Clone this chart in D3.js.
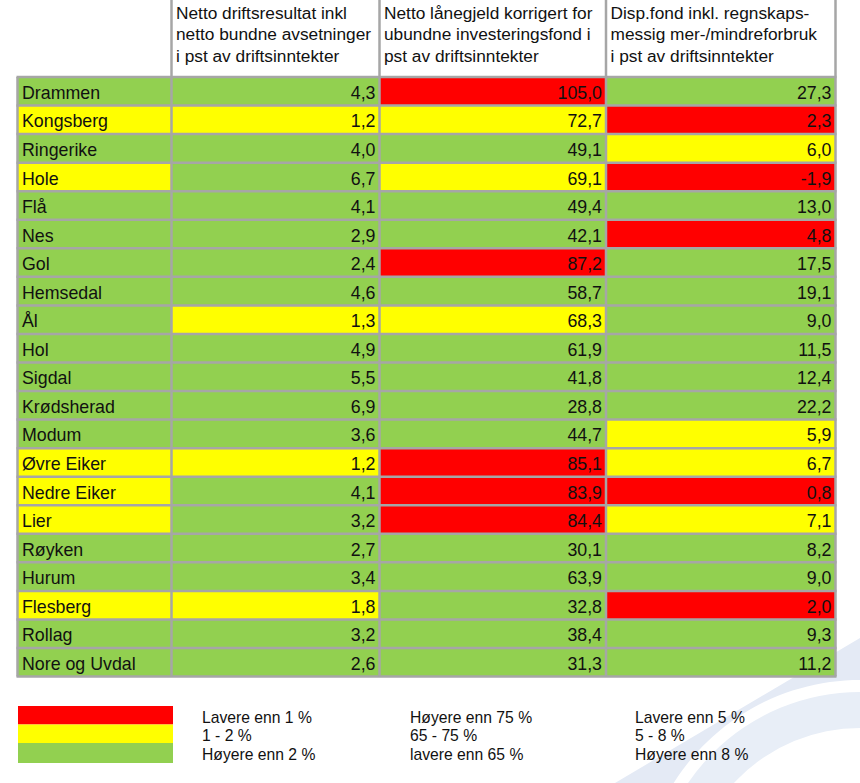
<!DOCTYPE html>
<html><head><meta charset="utf-8">
<script src="https://cdn.jsdelivr.net/npm/d3@7"></script>
<style>html,body{margin:0;padding:0;background:#fff;}svg{display:block;}</style>
</head><body>
<script>
const municipalities = ["Drammen","Kongsberg","Ringerike","Hole","Flå","Nes","Gol","Hemsedal","Ål","Hol","Sigdal","Krødsherad","Modum","Øvre Eiker","Nedre Eiker","Lier","Røyken","Hurum","Flesberg","Rollag","Nore og Uvdal"];
const driftsresultat = [4.3,1.2,4.0,6.7,4.1,2.9,2.4,4.6,1.3,4.9,5.5,6.9,3.6,1.2,4.1,3.2,2.7,3.4,1.8,3.2,2.6];
const lanegjeld = [105.0,72.7,49.1,69.1,49.4,42.1,87.2,58.7,68.3,61.9,41.8,28.8,44.7,85.1,83.9,84.4,30.1,63.9,32.8,38.4,31.3];
const dispfond = [27.3,2.3,6.0,-1.9,13.0,4.8,17.5,19.1,9.0,11.5,12.4,22.2,5.9,6.7,0.8,7.1,8.2,9.0,2.0,9.3,11.2];
const nameStatus = ["G","Y","G","Y","G","G","G","G","G","G","G","G","G","Y","Y","Y","G","G","Y","G","G"];
const headers = [
  ["Netto driftsresultat inkl","netto bundne avsetninger","i pst av driftsinntekter"],
  ["Netto lånegjeld korrigert for","ubundne investeringsfond i","pst av driftsinntekter"],
  ["Disp.fond inkl. regnskaps-","messig mer-/mindreforbruk","i pst av driftsinntekter"]
];
const legendLabels = [
  ["Lavere enn 1 %","1 - 2 %","Høyere enn 2 %"],
  ["Høyere enn 75 %","65 - 75 %","lavere enn 65 %"],
  ["Lavere enn 5 %","5 - 8 %","Høyere enn 8 %"]
];

const RED="#ff0000", YEL="#ffff00", GRN="#92d050", GRID="#a6a6a6";
const statusColor = {R:RED,Y:YEL,G:GRN};
const colScales = [
  d3.scaleThreshold().domain([1,2]).range([RED,YEL,GRN]),
  d3.scaleThreshold().domain([65,75]).range([GRN,YEL,RED]),
  d3.scaleThreshold().domain([5,8]).range([RED,YEL,GRN])
];
const series = [driftsresultat, lanegjeld, dispfond];

const W=860,H=783;
const svg = d3.select("body").append("svg").attr("width",W).attr("height",H);
const font = "'Liberation Sans', Arial, sans-serif";

// watermark swoosh (decorative background logo)
const cx=860, cy=900;
const arcPt = (r,deg)=>[cx + r*Math.cos(deg*Math.PI/180), cy - r*Math.sin(deg*Math.PI/180)];
{
  // outer sail
  const p = d3.path();
  p.moveTo(860,638); p.lineTo(615,783); p.lineTo(676,783);
  const r=220, a0=Math.asin((900-783)/r)*180/Math.PI; // angle at bottom
  for(let a=180-a0; a>=90; a-=2){ const q=arcPt(r,a); if(q[1]<=783) p.lineTo(q[0],q[1]); }
  p.lineTo(860,680); p.closePath();
  svg.append("path").attr("d",p.toString()).attr("fill","#e4eaf5");
  // inner arc band
  const band = d3.arc().innerRadius(172).outerRadius(208).startAngle(-Math.PI/2).endAngle(0);
  svg.append("path").attr("d",band()).attr("transform",`translate(${cx},${cy})`).attr("fill","#e8eef7");
}

const colEdges = [17.5,171.5,379.5,606,835.5];
const tableTop = 77, rowH = 28.55;
const y = d3.scaleBand().domain(municipalities).range([tableTop, tableTop + rowH*municipalities.length]).padding(0);

// header separators
[1,2,3,4].forEach(i=>{
  svg.append("line").attr("x1",colEdges[i]).attr("x2",colEdges[i]).attr("y1",0).attr("y2",tableTop)
    .attr("stroke",GRID).attr("stroke-width",2.5);
});
headers.forEach((lines,c)=>{
  const t = svg.append("text").attr("font-family",font).attr("font-size",17.3).attr("fill","#111");
  lines.forEach((ln,i)=>t.append("tspan").attr("x",colEdges[c+1]+4.5).attr("y",18.5+i*21.7).text(ln));
});

// cells
const rows = svg.append("g");
municipalities.forEach((m,r)=>{
  const y0 = y(m);
  rows.append("rect").attr("x",colEdges[0]).attr("y",y0).attr("width",colEdges[1]-colEdges[0]).attr("height",y.bandwidth())
    .attr("fill",statusColor[nameStatus[r]]);
  series.forEach((s,c)=>{
    rows.append("rect").attr("x",colEdges[c+1]).attr("y",y0).attr("width",colEdges[c+2]-colEdges[c+1]).attr("height",y.bandwidth())
      .attr("fill",colScales[c](s[r]));
  });
});
// grid
municipalities.concat([null]).forEach((m,i)=>{
  const yy = tableTop + i*rowH;
  svg.append("line").attr("x1",colEdges[0]-1).attr("x2",colEdges[4]+1).attr("y1",yy).attr("y2",yy).attr("stroke",GRID).attr("stroke-width",2.5);
});
colEdges.forEach(x=>{
  svg.append("line").attr("x1",x).attr("x2",x).attr("y1",tableTop).attr("y2",tableTop+rowH*municipalities.length).attr("stroke",GRID).attr("stroke-width",2.5);
});
// texts
const fmt = v => d3.format(".1f")(v).replace(".",",").replace("−","-");
municipalities.forEach((m,r)=>{
  const by = y(m)+y.bandwidth()/2+7.6;
  svg.append("text").attr("x",colEdges[0]+4.5).attr("y",by).attr("font-family",font).attr("font-size",17.8).attr("fill","#111").text(m);
  series.forEach((s,c)=>{
    svg.append("text").attr("x",colEdges[c+2]-4).attr("y",by).attr("text-anchor","end").attr("font-family",font).attr("font-size",17.8).attr("fill","#111").text(fmt(s[r]));
  });
});

// legend
const legColors=[RED,YEL,GRN];
const legY=[706,724.5,743,763];
legColors.forEach((c,i)=>{
  svg.append("rect").attr("x",18).attr("y",legY[i]).attr("width",155).attr("height",legY[i+1]-legY[i]).attr("fill",c);
});
const legX=[202,410,635];
legendLabels.forEach((labs,c)=>{
  labs.forEach((l,i)=>{
    svg.append("text").attr("x",legX[c]).attr("y",723+i*18.3).attr("font-family",font).attr("font-size",15.7).attr("fill","#111").text(l);
  });
});
</script>
</body></html>
